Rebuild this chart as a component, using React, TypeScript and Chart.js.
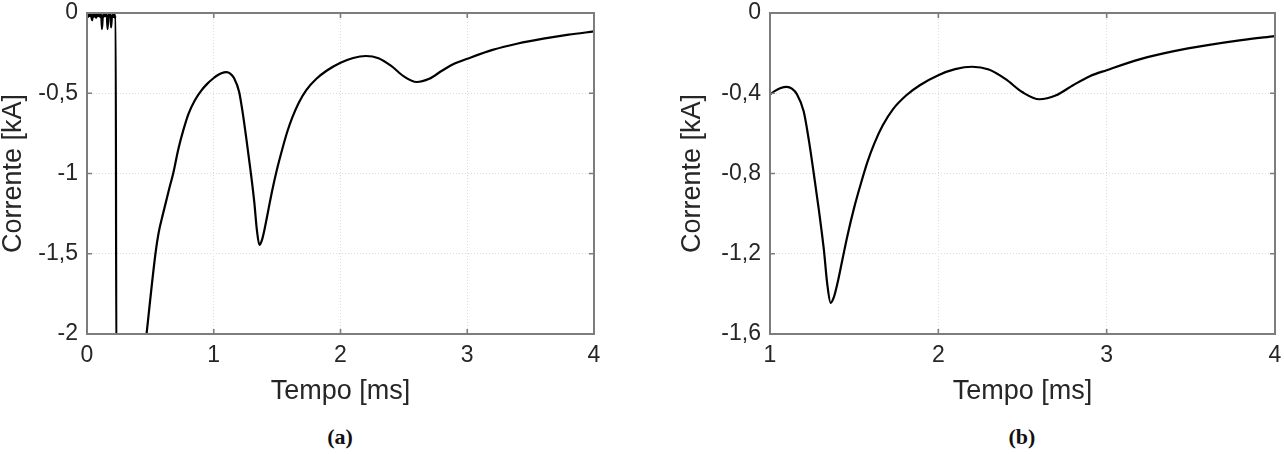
import { useEffect, useRef } from "react";
import { Chart, registerables } from "chart.js";

Chart.register(...registerables);

// ---- data (time in ms, current in kA) ----
const earlyTimeA = [
  0, 0.008, 0.016, 0.024, 0.032, 0.04, 0.048, 0.056, 0.064, 0.072, 0.08, 0.088, 0.096,
  0.104, 0.112, 0.118, 0.126, 0.134, 0.142, 0.15, 0.156, 0.162, 0.17, 0.178, 0.184,
  0.19, 0.198, 0.206, 0.214, 0.22, 0.226, 0.232, 0.43, 0.47, 0.54, 0.565, 0.6, 0.65,
  0.68, 0.72, 0.76, 0.8, 0.85, 0.9, 0.95,
];
const earlyCurrentA = [
  -0.01, -0.025, -0.005, -0.02, -0.01, -0.045, -0.008, -0.022, -0.012, -0.03, -0.006,
  -0.02, -0.01, -0.025, -0.008, -0.1, -0.012, -0.022, -0.006, -0.02, -0.01, -0.1,
  -0.008, -0.02, -0.01, -0.09, -0.012, -0.025, -0.008, -0.03, -0.015, -2.3, -2.3, -2.0,
  -1.5, -1.37, -1.25, -1.09, -1.0, -0.85, -0.73, -0.63, -0.545, -0.485, -0.44,
];
const mainTime = [
  1.0, 1.03, 1.06, 1.1, 1.13, 1.16, 1.2, 1.23, 1.26, 1.29, 1.32, 1.34, 1.36, 1.38, 1.4,
  1.43, 1.46, 1.5, 1.54, 1.58, 1.62, 1.67, 1.73, 1.81, 1.89, 2.0, 2.1, 2.2, 2.3, 2.4,
  2.5, 2.6, 2.7, 2.8, 2.9, 3.0, 3.2, 3.4, 3.6, 3.8, 4.0,
];
const mainCurrent = [
  -0.405, -0.388, -0.375, -0.368, -0.377, -0.405, -0.49, -0.63, -0.8, -0.98, -1.18,
  -1.35, -1.445, -1.415, -1.35, -1.23, -1.11, -0.97, -0.85, -0.74, -0.65, -0.56, -0.48,
  -0.41, -0.36, -0.31, -0.28, -0.268, -0.282, -0.33, -0.395, -0.43, -0.41, -0.36,
  -0.315, -0.285, -0.23, -0.19, -0.16, -0.135, -0.115,
];

const xTicksA = [0, 1, 2, 3, 4];
const yTicksA = [0, -0.5, -1, -1.5, -2];
const xTicksB = [1, 2, 3, 4];
const yTicksB = [0, -0.4, -0.8, -1.2, -1.6];

const xTitle = "Tempo [ms]";
const yTitle = "Corrente [kA]";
const captionA = "(a)";
const captionB = "(b)";

const FONT = "'Liberation Sans', Arial, sans-serif";
const TEXT = "#262626";
const AXIS = "#7d7d7d";

const fmt = (v: number) => String(v).replace(".", ",");

const boxPlugin = {
  id: "matlabBox",
  afterDatasetsDraw(chart: any) {
    const { ctx, chartArea } = chart;
    const { left, right, top, bottom } = chartArea;
    const xs = chart.scales.x;
    const ys = chart.scales.y;
    ctx.save();
    ctx.strokeStyle = AXIS;
    ctx.lineWidth = 1.6;
    ctx.beginPath();
    xs.ticks.forEach((t: any) => {
      const px = xs.getPixelForValue(t.value);
      ctx.moveTo(px, bottom);
      ctx.lineTo(px, bottom - 5);
      ctx.moveTo(px, top);
      ctx.lineTo(px, top + 5);
    });
    ys.ticks.forEach((t: any) => {
      const py = ys.getPixelForValue(t.value);
      ctx.moveTo(left, py);
      ctx.lineTo(left + 5, py);
      ctx.moveTo(right, py);
      ctx.lineTo(right - 5, py);
    });
    ctx.stroke();
    ctx.lineWidth = 2;
    ctx.strokeRect(left, top, right - left, bottom - top);
    ctx.restore();
  },
};

type PanelProps = {
  left: number;
  width: number;
  times: number[];
  currents: number[];
  xTicks: number[];
  yTicks: number[];
  yAxisWidth: number;
  rightPad: number;
  captionCenter: number;
  caption: string;
};

function Panel(p: PanelProps) {
  const ref = useRef<HTMLCanvasElement | null>(null);
  useEffect(() => {
    if (!ref.current) return;
    const points = p.times.map((t, i) => ({ x: t, y: p.currents[i] }));
    const chart = new Chart(ref.current, {
      type: "line",
      data: {
        datasets: [
          {
            data: points,
            borderColor: "#000000",
            borderWidth: 2.2,
            pointRadius: 0,
            cubicInterpolationMode: "monotone",
            fill: false,
          },
        ],
      },
      plugins: [boxPlugin],
      options: {
        animation: false,
        responsive: true,
        maintainAspectRatio: false,
        layout: { padding: { top: 13, right: p.rightPad, bottom: 15, left: 0 } },
        plugins: { legend: { display: false }, tooltip: { enabled: false } },
        scales: {
          x: {
            type: "linear",
            min: p.xTicks[0],
            max: p.xTicks[p.xTicks.length - 1],
            afterBuildTicks: (s: any) => {
              s.ticks = p.xTicks.map((v) => ({ value: v }));
            },
            afterFit: (s: any) => {
              s.height = 71;
              s.paddingLeft = 0;
              s.paddingRight = 0;
            },
            grid: { color: "#dcdcdc", lineWidth: 1, drawTicks: false },
            border: { display: false, dash: [1, 2] },
            ticks: {
              padding: 9,
              color: TEXT,
              font: { family: FONT, size: 23, lineHeight: 1.1 },
              maxRotation: 0,
              callback: (v: any) => fmt(Number(v)),
            },
            title: {
              display: true,
              text: xTitle,
              color: TEXT,
              font: { family: FONT, size: 27, lineHeight: 1 },
              padding: 0,
            },
          },
          y: {
            type: "linear",
            min: p.yTicks[p.yTicks.length - 1],
            max: p.yTicks[0],
            afterBuildTicks: (s: any) => {
              s.ticks = p.yTicks.slice().reverse().map((v) => ({ value: v }));
            },
            afterFit: (s: any) => {
              s.width = p.yAxisWidth;
              s.paddingTop = 0;
              s.paddingBottom = 0;
            },
            grid: { color: "#dcdcdc", lineWidth: 1, drawTicks: false },
            border: { display: false, dash: [1, 2] },
            ticks: {
              padding: 9,
              color: TEXT,
              font: { family: FONT, size: 23, lineHeight: 1.1 },
              callback: (v: any) => fmt(Number(v)),
            },
            title: {
              display: true,
              text: yTitle,
              color: TEXT,
              font: { family: FONT, size: 27, lineHeight: 1 },
              padding: { top: 0, bottom: 0 },
            },
          },
        },
      } as any,
    });
    return () => chart.destroy();
  }, []);
  return (
    <>
      <div
        style={{
          position: "absolute",
          left: p.left,
          top: 0,
          width: p.width,
          height: 420,
        }}
      >
        <canvas ref={ref} />
      </div>
      <div
        style={{
          position: "absolute",
          left: p.captionCenter - 50,
          top: 425,
          width: 100,
          textAlign: "center",
          font: "bold 22px 'Liberation Serif', 'DejaVu Serif', serif",
          lineHeight: "24px",
          color: "#111",
        }}
      >
        {p.caption}
      </div>
    </>
  );
}

export default function App() {
  return (
    <div
      style={{
        position: "absolute",
        left: 0,
        top: 0,
        width: 1284,
        height: 454,
        background: "#ffffff",
        overflow: "hidden",
      }}
    >
      <Panel
        left={0}
        width={604}
        times={[...earlyTimeA, ...mainTime]}
        currents={[...earlyCurrentA, ...mainCurrent]}
        xTicks={xTicksA}
        yTicks={yTicksA}
        yAxisWidth={87}
        rightPad={10}
        captionCenter={340}
        caption={captionA}
      />
      <Panel
        left={679}
        width={605}
        times={mainTime}
        currents={mainCurrent}
        xTicks={xTicksB}
        yTicks={yTicksB}
        yAxisWidth={91}
        rightPad={9}
        captionCenter={1022}
        caption={captionB}
      />
    </div>
  );
}
